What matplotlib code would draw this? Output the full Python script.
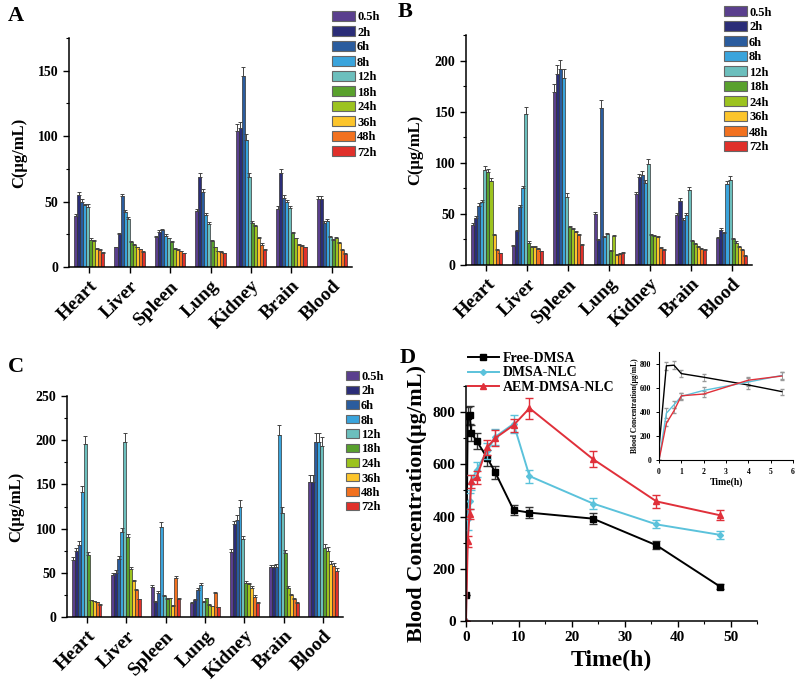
import numpy as np
import matplotlib
matplotlib.use("Agg")
import matplotlib.pyplot as plt
from matplotlib.ticker import MultipleLocator

plt.rcParams["font.family"] = ["Liberation Serif", "DejaVu Serif"]
plt.rcParams["font.weight"] = "bold"
plt.rcParams["axes.labelweight"] = "bold"

ORGANS = ["Heart", "Liver", "Spleen", "Lung", "Kidney", "Brain", "Blood"]
TIMES = ["0.5h", "2h", "6h", "8h", "12h", "18h", "24h", "36h", "48h", "72h"]
COLORS = ["#5a3f8e", "#2b2d78", "#2a5c9e", "#3aa4dc", "#6cbfbd",
          "#59a12d", "#9cc31f", "#fcc52c", "#f2711f", "#e0302a"]

# rows = organs, columns = time points
conc_a = [
    [39, 55, 50, 47, 46, 21, 20, 14, 13, 11],
    [15, 25, 54, 42, 37, 19, 17, 15, 13.5, 11.5],
    [23, 27, 28, 24, 22, 19, 14, 13, 12, 10.5],
    [43, 69, 57, 40, 33, 20, 15, 12, 11.5, 10.5],
    [104, 106, 146, 97, 69, 34, 31, 22, 17, 13],
    [44, 72, 53, 50, 45, 26, 22, 17, 16, 15],
    [52, 52, 34, 35, 23, 21, 22, 18, 13, 10],
]
err_a = [
    [1.5, 2.5, 2, 1.5, 2, 1, 1, 0.5, 0.5, 0.5],
    [0.5, 1, 2, 1.5, 1, 0.5, 0.5, 0.5, 0.5, 0.5],
    [1, 1, 1, 1, 0.5, 0.5, 0.5, 0.5, 0.5, 0.5],
    [1.5, 3, 2.5, 1.5, 1.5, 1, 0.5, 0.5, 0.5, 0.5],
    [5, 5, 7, 5, 3, 1, 1, 1, 1, 0.5],
    [2.5, 3, 2, 1.5, 1.5, 1, 0.5, 0.5, 1, 0.5],
    [2, 2, 1, 1.5, 1, 0.5, 1, 1, 0.5, 0.5],
]
conc_b = [
    [39, 46, 58, 62, 93, 91, 82, 29, 15, 11.5],
    [19, 33, 57, 75, 148, 22, 18, 18, 16, 13.5],
    [169, 187, 192, 183, 67, 37, 35, 32, 29, 20],
    [50, 24, 154, 27, 30, 14, 28, 10, 11, 12],
    [69, 86, 88, 80, 99, 29, 28, 27, 17, 15],
    [49, 63, 44, 49, 73, 23, 21, 18, 16, 15],
    [26, 34, 31, 79, 83, 25, 22, 18, 15, 9],
]
err_b = [
    [2, 2, 3, 2, 4, 3, 3, 1, 1, 0.5],
    [1, 1.5, 2, 2.5, 7, 1, 1, 0.5, 0.5, 0.5],
    [8, 9, 9, 9, 3, 1.5, 1, 1, 1, 1],
    [2, 1, 7, 1, 1.5, 0.5, 1, 0.5, 0.5, 0.5],
    [2, 3, 4, 3, 5, 1, 1, 1, 0.5, 0.5],
    [2, 3, 1.5, 2, 3, 1, 1, 0.5, 0.5, 0.5],
    [1, 2, 1.5, 3, 4, 1, 1, 1, 1, 0.5],
]
conc_c = [
    [65, 75, 82, 141, 196, 70, 19, 18, 17, 14],
    [48, 50, 66, 96, 198, 90, 54, 41, 31, 20],
    [34, 17, 27, 102, 24, 20, 21, 13, 44, 20],
    [16, 19, 31, 36, 17, 21, 14, 12, 27, 11],
    [73, 105, 110, 125, 88, 39, 37, 33, 23, 16],
    [56, 56, 57, 206, 118, 72, 33, 25, 20, 16],
    [153, 153, 198, 198, 194, 78, 75, 60, 58, 52],
]
err_c = [
    [3, 3, 4, 7, 9, 3, 0.5, 0.5, 0.5, 0.5],
    [2, 3, 3, 5, 10, 4, 2, 1, 1, 0.5],
    [2, 1, 2, 6, 1, 1, 1, 0.5, 2, 1],
    [1, 1, 2, 2, 1, 1, 0.5, 0.5, 1, 0.5],
    [4, 4, 5, 7, 4, 2, 2, 2, 2, 1],
    [3, 3, 3, 11, 6, 4, 2, 1, 1, 1],
    [8, 8, 10, 10, 10, 5, 4, 3, 3, 3],
]

# panel D: blood concentration vs time
t_d = [0, 0.33, 0.67, 1, 2, 4, 5.5, 9, 12, 24, 36, 48]
free_dmsa = [100, 785, 790, 720, 690, 625, 570, 425, 415, 392, 290, 132]
free_err = [0, 35, 35, 30, 30, 30, 25, 20, 22, 20, 15, 8]
dmsa_nlc = [0, 390, 460, 530, 580, 650, 705, 755, 555, 450, 370, 330]
nlc_err = [0, 40, 30, 30, 30, 30, 30, 35, 25, 20, 15, 15]
aem_nlc = [0, 305, 410, 535, 550, 665, 700, 750, 815, 620, 458, 405]
aem_err = [0, 20, 20, 25, 25, 30, 30, 25, 40, 30, 25, 20]

W, H = 800, 682
BAR_W = 0.075


def px(left, top, right, bottom):
    return [left / W, 1 - bottom / H, (right - left) / W, (bottom - top) / H]


def style_axes(ax):
    for s in ["top", "right"]:
        ax.spines[s].set_visible(False)
    for s in ["left", "bottom"]:
        ax.spines[s].set_linewidth(1.1)
    ax.tick_params(direction="out", width=1, length=4)
    ax.tick_params(which="minor", direction="out", width=0.8, length=2.5)


def bar_panel(fig, rect, conc, err, ymax, ystep, legend_pos, patch, letter, letter_pos):
    ax = fig.add_axes(rect)
    style_axes(ax)
    conc = np.array(conc)
    err = np.array(err)
    x = np.arange(len(ORGANS))
    for j, t in enumerate(TIMES):
        xs = x + (j - 4.5) * BAR_W
        ax.bar(xs, conc[:, j], BAR_W, color=COLORS[j], edgecolor="#333333",
               linewidth=0.5, label=t)
        ax.errorbar(xs, conc[:, j], yerr=[np.zeros(len(x)), err[:, j]], fmt="none",
                    ecolor="#444444", elinewidth=0.7, capsize=1.2, capthick=0.7)
    ax.set_xlim(-0.5, 6.5)
    ax.set_ylim(0, ymax)
    ax.yaxis.set_major_locator(MultipleLocator(ystep))
    ax.yaxis.set_minor_locator(MultipleLocator(ystep / 2))
    ax.set_xticks(x)
    ax.set_xticklabels(ORGANS, rotation=45, ha="right", rotation_mode="anchor",
                       fontsize=14, fontweight="bold")
    for lab in ax.get_yticklabels():
        lab.set_fontsize(10)
        lab.set_fontweight("bold")
    ax.set_ylabel("C(μg/mL)", fontsize=12, fontweight="bold", labelpad=8)
    leg = ax.legend(loc="upper left", bbox_to_anchor=(legend_pos[0] / W, 1 - legend_pos[1] / H),
                    bbox_transform=fig.transFigure, frameon=False,
                    prop={"size": 9, "weight": "bold"},
                    handlelength=patch[0], handleheight=patch[1],
                    handletextpad=0.15, labelspacing=0.2, borderpad=0, borderaxespad=0)
    for h in leg.legend_handles:
        h.set_edgecolor("#666666")
        h.set_linewidth(0.8)
    fig.text(letter_pos[0] / W, 1 - letter_pos[1] / H, letter, fontsize=16,
             fontweight="bold", ha="left", va="center")
    return ax


fig = plt.figure(figsize=(8, 6.82), dpi=100)

bar_panel(fig, px(69, 38, 352, 267), conc_a, err_a, 175, 50,
          (332, 11), (1.85, 0.9), "A", (8, 16))
bar_panel(fig, px(466, 35, 752, 265), conc_b, err_b, 225, 50,
          (724, 6), (1.85, 0.9), "B", (398, 12))
bar_panel(fig, px(67, 396, 343, 617), conc_c, err_c, 250, 50,
          (346, 371), (1.05, 0.65), "C", (8, 367))

# panel D
ax = fig.add_axes(px(466, 386, 757, 621))
style_axes(ax)
series = [
    (free_dmsa, free_err, "black", "#333333", "s", 4, "Free-DMSA"),
    (dmsa_nlc, nlc_err, "#5bc2db", "#5bc2db", "D", 3, "DMSA-NLC"),
    (aem_nlc, aem_err, "#e0303a", "#e0303a", "^", 4, "AEM-DMSA-NLC"),
]
lines = []
for y, e, c, ec, m, ms, lab in series:
    ax.errorbar(t_d, y, yerr=e, fmt="none", ecolor=ec, elinewidth=1, capsize=3)
    l, = ax.plot(t_d, y, color=c, marker=m, markersize=ms, linewidth=1.4, label=lab)
    lines.append(l)
ax.set_xlim(0, 55)
ax.set_ylim(0, 900)
ax.xaxis.set_major_locator(MultipleLocator(10))
ax.xaxis.set_minor_locator(MultipleLocator(5))
ax.yaxis.set_major_locator(MultipleLocator(200))
ax.yaxis.set_minor_locator(MultipleLocator(100))
for lab in ax.get_xticklabels() + ax.get_yticklabels():
    lab.set_fontsize(11)
    lab.set_fontweight("bold")
ax.set_xlabel("Time(h)", fontsize=17, fontweight="bold", labelpad=4)
ax.set_ylabel("Blood Concentration(μg/mL)", fontsize=16, fontweight="bold", labelpad=4)
ax.legend(handles=lines, loc="upper left", bbox_to_anchor=(468 / W, 1 - 352 / H),
          bbox_transform=fig.transFigure, frameon=False,
          prop={"size": 10, "weight": "bold"}, handlelength=2.2,
          handletextpad=0.3, labelspacing=0.1, borderpad=0, borderaxespad=0)
fig.text(400 / W, 1 - 358 / H, "D", fontsize=16, fontweight="bold", ha="left", va="center")

# inset: first 6 hours
n = 7
ins = fig.add_axes(px(659, 352, 793, 460))
style_axes(ins)
ins.tick_params(length=2, width=0.7, labelsize=5.5)
ins.tick_params(which="minor", length=0)
for y, e, c, ec, m, ms, lab in series:
    ins.errorbar(t_d[:n], y[:n], yerr=e[:n], color=c, linewidth=1,
                 ecolor="#999999", elinewidth=0.6, capsize=1.5)
ins.set_xlim(0, 6)
ins.set_ylim(0, 900)
ins.xaxis.set_major_locator(MultipleLocator(1))
ins.yaxis.set_major_locator(MultipleLocator(200))
for s in ["left", "bottom"]:
    ins.spines[s].set_linewidth(0.8)
ins.set_xlabel("Time(h)", fontsize=7, fontweight="bold", labelpad=1)
ins.set_ylabel("Blood Concentration(μg/mL)", fontsize=5.5, fontweight="bold", labelpad=1)

fig.savefig("out.png", dpi=100)
